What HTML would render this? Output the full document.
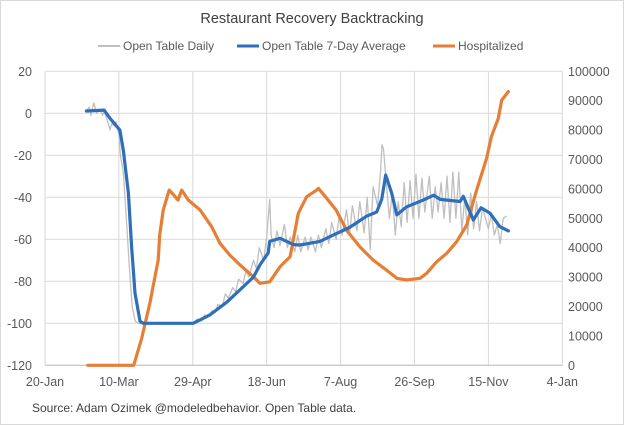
<!DOCTYPE html>
<html><head><meta charset="utf-8"><style>
body{margin:0;background:#fff;}
svg{display:block;font-family:"Liberation Sans",sans-serif;}
</style></head><body>
<svg id="chart" width="624" height="425">
<rect x="0.5" y="0.5" width="623" height="424" fill="#fff" stroke="#d9d9d9"/>
<text x="312" y="23" text-anchor="middle" font-size="14.5" fill="#404040">Restaurant Recovery Backtracking</text>
<g>
<g><line x1="98" y1="46" x2="120" y2="46" stroke="#bfbfbf" stroke-width="2"/><text x="123" y="50" font-size="12" fill="#595959">Open Table Daily</text></g>
<g><line x1="237" y1="46" x2="259" y2="46" stroke="#2e6fba" stroke-width="3"/><text x="262" y="50" font-size="12" fill="#595959">Open Table 7-Day Average</text></g>
<g><line x1="433" y1="46" x2="455" y2="46" stroke="#e67e35" stroke-width="3"/><text x="458" y="50" font-size="12" fill="#595959">Hospitalized</text></g>
</g>
<g id="grid"></g>
<g id="axes"></g>
<g id="series"></g>
<text x="32" y="412" font-size="12" fill="#404040">Source: Adam Ozimek @modeledbehavior. Open Table data.</text>
</svg>
<script>
// days since 20-Jan
const xTickLabels = ["20-Jan","10-Mar","29-Apr","18-Jun","7-Aug","26-Sep","15-Nov","4-Jan"];
const xTickDays = [0,50,100,150,200,250,300,350];
const leftTicks = [20,0,-20,-40,-60,-80,-100,-120];
const rightTicks = [100000,90000,80000,70000,60000,50000,40000,30000,20000,10000,0];
const avgDays = [28,40,44,50.7,53,56.4,58.6,60.9,64.3,66.5,100.3,111.6,122.9,132,141,145.6,151,152,159,163.5,168,172.5,186,195,206,217.6,224.4,227.8,230.5,234.6,238,244.7,256,263,267.3,280.8,283,287.5,289.8,295,301,307.8,313.5];
const avgValues = [1.1,1.5,-2.4,-8,-17.5,-38,-63.5,-85.6,-99,-100,-100,-96,-90,-84,-78,-72,-66.5,-61,-59.5,-61,-62.5,-62.7,-61,-58,-54.4,-49,-47,-41,-29.4,-38,-48.4,-44.5,-41.3,-39,-41,-42,-39.5,-47,-50.8,-45,-47.5,-54,-56];
const hospDays = [29,60,65.4,71,76.6,77.6,80,84,87,90,92.5,97,105,112.8,118.4,125,132,141,145.5,152,159,165.8,171.4,177,183.8,185,190.6,197,204,213,222,231,238,244.7,253.7,258.2,265,271.8,278.5,285.3,292,298.8,302,306.7,309,313.5];
const hospValues = [0,0,9200,21200,35800,44300,52800,59600,58000,56200,59600,56200,52800,47100,41500,37500,34100,30100,27900,28400,33500,36900,51700,57300,59600,60200,56800,52800,46000,40300,35800,32400,29600,29000,29600,31300,35200,38100,42000,47700,59600,70400,77800,84000,90200,93100];
const dailyDays = [28,30,31,33,35,37,39,40,42,44,45,47,48,50,51,53,55,57,59,61,63,100,103,106,108,110,113,115,117,120,122,124,127,129,131,134,136,138,141,143,145,148,150,152,153,155,157,159,162,164,166,169,171,173,176,178,180,183,185,187,190,192,194,197,199,201,204,206,208,211,213,216,218,220,222,225,227,228,229,231,233,235,237,239,241,243,245,247,249,251,253,255,257,260,262,264,266,268,270,272,274,276,278,280,282,284,286,288,290,292,294,296,298,300,302,304,306,308,310,312];
const dailyValues = [1,3,-1,5,0,2,-1,1,-3,-8,-5,-6,-4,-10,-20,-28,-50,-72,-92,-99,-100,-100,-98,-99,-96,-97,-94,-95,-91,-92,-86,-88,-83,-85,-79,-81,-75,-78,-70,-74,-64,-70,-59,-41,-58,-64,-56,-63,-53,-64,-59,-66,-58,-66,-59,-65,-59,-66,-58,-64,-55,-62,-52,-60,-49,-58,-46,-58,-44,-56,-42,-57,-40,-65,-35,-44,-28,-15,-17,-34,-50,-38,-58,-42,-54,-33,-52,-32,-50,-29,-50,-31,-47,-30,-50,-35,-47,-33,-50,-30,-52,-28,-50,-28,-56,-40,-58,-38,-55,-42,-56,-45,-50,-55,-48,-58,-53,-62,-50,-49];

const NS="http://www.w3.org/2000/svg";
const X0=45, PXD=1.478, YL0=113.3, PXU=2.1, YB=365.3, YT=71.3;
const xS=d=>X0+d*PXD;
const yL=v=>YL0-v*PXU;
const yR=h=>YB-h/100000*(YB-YT);
function mk(tag,attrs,parent){const e=document.createElementNS(NS,tag);for(const k in attrs)e.setAttribute(k,attrs[k]);parent.appendChild(e);return e;}
const grid=document.getElementById('grid'), axes=document.getElementById('axes'), series=document.getElementById('series');
leftTicks.forEach(v=>{
  const l=mk('line',{x1:X0,x2:xS(350),y1:yL(v),y2:yL(v),stroke:'#d9d9d9','stroke-width':1},grid);
  
  
  const t=mk('text',{x:32,y:yL(v)+4.5,'text-anchor':'end','font-size':12.5,fill:'#595959'},axes);
  t.textContent=v;
  
  
});
xTickDays.forEach((d,i)=>{
  const l=mk('line',{x1:xS(d),x2:xS(d),y1:YT,y2:YB,stroke:'#d9d9d9','stroke-width':1},grid);
  
  
  const t=mk('text',{x:xS(d),y:386,'text-anchor':'middle','font-size':12.5,fill:'#595959'},axes);
  t.textContent=xTickLabels[i];
  
  
});
rightTicks.forEach(h=>{
  const t=mk('text',{x:568,y:yR(h)+4.5,'font-size':12.5,fill:'#595959'},axes);
  t.textContent=h;
  
  
});
const bl=mk('line',{x1:X0,x2:xS(350),y1:YB,y2:YB,stroke:'#bfbfbf'},axes);


function path(days,vals,yf,color,w,name){
  const d=days.map((x,i)=>(i?'L':'M')+xS(x).toFixed(1)+','+yf(vals[i]).toFixed(1)).join('');
  const p=mk('path',{d:d,fill:'none',stroke:color,'stroke-width':w,'stroke-linejoin':'round','stroke-linecap':'round'},series);
  
  
}
path(dailyDays,dailyValues,yL,'#bfbfbf',1.3,'open-table-daily-line');
path(hospDays,hospValues,yR,'#e67e35',3.2,'hospitalized-line');
path(avgDays,avgValues,yL,'#2e6fba',3.2,'open-table-7day-line');
</script>
</body></html>
